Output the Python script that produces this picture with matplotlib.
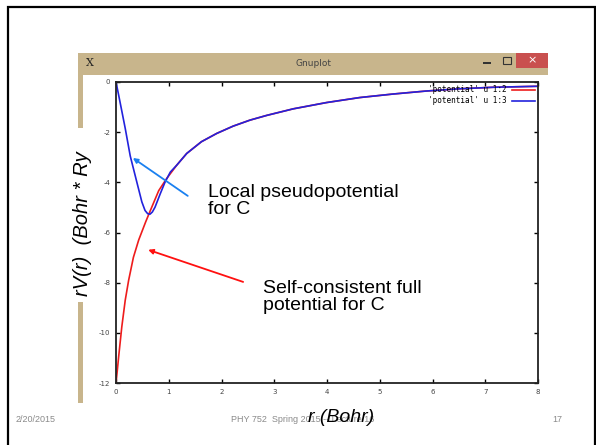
import numpy as np
import matplotlib
matplotlib.use("Agg")
import matplotlib.pyplot as plt
from matplotlib.patches import Rectangle

plt.rcParams["axes.unicode_minus"] = False

W, H = 596, 445

# values
r_full = [0, 0.02, 0.05, 0.11, 0.175, 0.24, 0.33, 0.43, 0.56, 0.65, 0.81, 0.96, 1.15]
v_full = [-12, -11.6, -10.96, -9.76, -8.7, -7.9, -6.99, -6.3, -5.59, -5.13, -4.33, -3.85, -3.32]

r_pseudo = [0, 0.05, 0.1, 0.175, 0.27, 0.39, 0.49, 0.55, 0.6, 0.645, 0.69, 0.74, 0.84, 0.93, 1.03, 1.15]
v_pseudo = [0, -0.52, -1.05, -1.85, -2.95, -3.95, -4.78, -5.12, -5.25, -5.27, -5.18, -4.99, -4.45, -3.99, -3.59, -3.32]

# both columns agree beyond r ~ 1.15
r_tail = [1.34, 1.62, 1.91, 2.22, 2.54, 2.86, 3.11, 3.36, 3.99, 4.62, 5.25, 5.88, 6.52, 7.15, 8.0]
v_tail = [-2.85, -2.38, -2.05, -1.76, -1.52, -1.33, -1.2, -1.07, -0.82, -0.62, -0.48, -0.36, -0.27, -0.21, -0.17]

xticks = list(range(0, 9))
yticks = list(range(0, -13, -2))
labels = ["'potential' u 1:2", "'potential' u 1:3"]


def fx(x):
    return x / W


def fy(y):
    return 1 - y / H


fig = plt.figure(figsize=(W / 100, H / 100), dpi=100)
fig.patch.set_facecolor("white")

# slide border
fig.patches.append(Rectangle((fx(8), fy(447)), fx(595) - fx(8), fy(7) - fy(447),
                             transform=fig.transFigure, fill=False, ec="black", lw=1.6))

# gnuplot window chrome
beige = "#c8b58c"
fig.patches.append(Rectangle((fx(78), fy(75)), fx(548) - fx(78), fy(53) - fy(75),
                             transform=fig.transFigure, fc=beige, ec="none"))
fig.patches.append(Rectangle((fx(78), fy(128)), fx(83) - fx(78), fy(75) - fy(128),
                             transform=fig.transFigure, fc=beige, ec="none"))
fig.patches.append(Rectangle((fx(78), fy(403)), fx(83) - fx(78), fy(302) - fy(403),
                             transform=fig.transFigure, fc=beige, ec="none"))
fig.patches.append(Rectangle((fx(516), fy(68)), fx(548) - fx(516), fy(53) - fy(68),
                             transform=fig.transFigure, fc="#c9504f", ec="none"))
fig.text(fx(532), fy(60.5), "\u00d7", color="white", fontsize=8, ha="center", va="center")
fig.patches.append(Rectangle((fx(483), fy(63.5)), fx(491) - fx(483), fy(62) - fy(63.5),
                             transform=fig.transFigure, fc="#333333", ec="none"))
fig.patches.append(Rectangle((fx(503), fy(64)), fx(511) - fx(503), fy(57) - fy(64),
                             transform=fig.transFigure, fill=False, ec="#333333", lw=0.8))
fig.text(fx(314), fy(64), "Gnuplot", color="#444444", fontsize=6.5, ha="center", va="center")
fig.text(fx(90), fy(63), "X", color="#222222", fontsize=8, ha="center", va="center",
         family="DejaVu Serif")

ax = fig.add_axes([fx(116), fy(383), fx(538) - fx(116), fy(82) - fy(383)])
ax.plot(r_full + r_tail, v_full + v_tail, color="#ee1c1c", lw=1.2, label=labels[0])
ax.plot(r_pseudo + r_tail, v_pseudo + v_tail, color="#2222dd", lw=1.2, label=labels[1])
ax.set_xlim(0, 8)
ax.set_ylim(-12, 0)
ax.set_xticks(xticks)
ax.set_yticks(yticks)
ax.tick_params(direction="in", top=True, right=True, length=3, width=1,
               labelsize=5, labelcolor="#444444", pad=4)
for s in ax.spines.values():
    s.set_linewidth(1.3)
    s.set_color("#222222")
ax.legend(loc="upper right", frameon=False, markerfirst=False, handlelength=3,
          prop={"family": "DejaVu Sans Mono", "size": 5.5}, borderaxespad=0.05,
          labelspacing=0.25, handletextpad=0.6)

# slide overlays
ax.annotate("", xy=(0.32, -3.03), xytext=(1.36, -4.54), annotation_clip=False,
            arrowprops=dict(arrowstyle="-|>", color="#1a80f0", lw=1.3, mutation_scale=7,
                            shrinkA=0, shrinkB=0))
ax.annotate("", xy=(0.61, -6.69), xytext=(2.41, -7.97), annotation_clip=False,
            arrowprops=dict(arrowstyle="-|>", color="#ff1010", lw=1.3, mutation_scale=7,
                            shrinkA=0, shrinkB=0))
ax.text(1.74, -4.05, "Local pseudopotential\nfor C", fontsize=14, family="Liberation Sans",
        va="top", ha="left", linespacing=1.05)
ax.text(2.79, -7.88, "Self-consistent full\npotential for C", fontsize=14,
        family="Liberation Sans", va="top", ha="left", linespacing=1.05)

fig.text(fx(83), fy(224), "rV(r)  (Bohr * Ry", rotation=90, fontsize=14.5,
         family="Liberation Sans", style="italic", ha="center", va="center")

# footer
foot = "#8a8a8a"
fig.text(fx(36), fy(419), "2/20/2015", fontsize=6.5, color=foot, family="Liberation Sans",
         ha="center", va="center")
fig.text(fx(303), fy(419), "PHY 752  Spring 2015 -- Lecture 16", fontsize=6.5, color=foot,
         family="Liberation Sans", ha="center", va="center", zorder=1)
fig.text(fx(557), fy(419), "17", fontsize=6.5, color=foot, family="Liberation Sans",
         ha="center", va="center")
# x label sits over the footer line, as on the slide
fig.text(fx(341), fy(417), "r (Bohr)", fontsize=14, family="Liberation Sans",
         style="italic", ha="center", va="center", zorder=5)

fig.savefig("out.png", dpi=100)
